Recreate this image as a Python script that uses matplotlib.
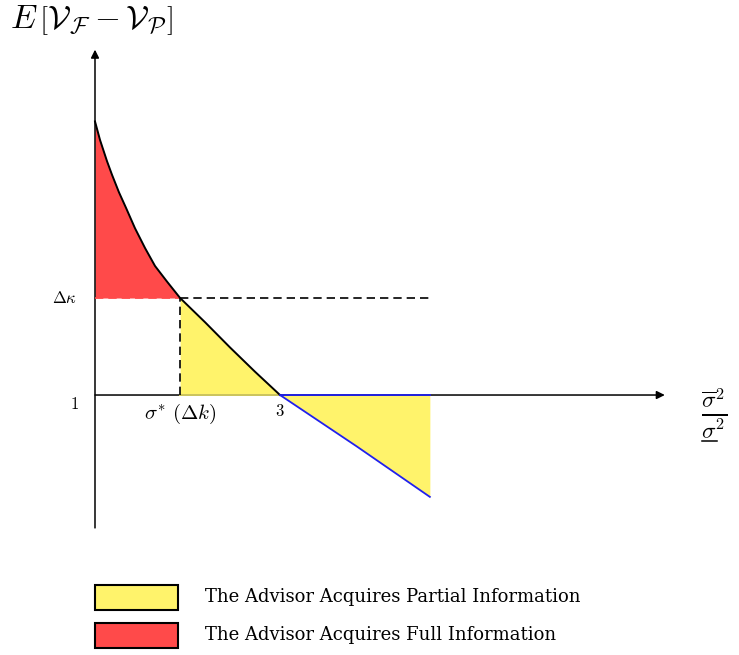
import matplotlib
matplotlib.use('Agg')
import matplotlib.pyplot as plt
from matplotlib.patches import Rectangle

plt.rcParams['mathtext.fontset'] = 'cm'
plt.rcParams['font.family'] = ['DejaVu Serif']

# values
curve_x = [1.0, 1.054, 1.13, 1.184, 1.259, 1.335, 1.432, 1.541, 1.649,
           1.778, 1.92, 2.19, 2.46, 2.73, 3.0]
curve_y = [2.82, 2.63, 2.41, 2.27, 2.09, 1.93, 1.72, 1.515, 1.33,
           1.17, 1.0, 0.75, 0.49, 0.24, 0.0]
blue_x = [3.0, 3.83, 4.62]
blue_y = [0.0, -0.53, -1.05]
sigma_star = 1.92
delta_kappa = 1.0
x_end = 4.62

legend_labels = ['The Advisor Acquires Partial Information',
                 'The Advisor Acquires Full Information']
yellow = '#fff36b'
red = '#ff4a4a'
blue = '#2020ee'

fig = plt.figure(figsize=(7.39, 6.55), dpi=100)
ax = fig.add_axes([0, 0, 1, 1])
ax.set_xlim(-0.027, 7.962)
ax.set_ylim(-2.680, 4.072)
ax.axis('off')

# red area: curve above delta kappa
red_x = [x for x in curve_x if x <= sigma_star]
red_y = [y for x, y in zip(curve_x, curve_y) if x <= sigma_star]
ax.fill_between(red_x, red_y, delta_kappa, color=red, lw=0, zorder=1)

# yellow area: curve down to axis, then blue line below axis
yel_x = [x for x in curve_x if x >= sigma_star]
yel_y = [y for x, y in zip(curve_x, curve_y) if x >= sigma_star]
ax.fill_between(yel_x, yel_y, 0, color=yellow, lw=0, zorder=1)
ax.fill_between(blue_x, blue_y, 0, color=yellow, lw=0, zorder=1)

# axes with arrows
arrow = dict(arrowstyle='-|>', color='black', lw=1.1, mutation_scale=12,
             shrinkA=0, shrinkB=0)
ax.annotate('', xy=(7.16, 0), xytext=(1.0, 0), arrowprops=arrow, zorder=2)
ax.annotate('', xy=(1.0, 3.56), xytext=(1.0, -1.37), arrowprops=arrow, zorder=2)
ax.plot([sigma_star, 3.0], [0, 0], color='#d0c860', lw=1.4, zorder=3)
ax.plot([3.0, x_end], [0, 0], color=blue, lw=1.3, zorder=3)

# curve
ax.plot(curve_x, curve_y, color='black', lw=1.4, zorder=4,
        solid_joinstyle='round')
ax.plot(blue_x, blue_y, color=blue, lw=1.3, zorder=4)

# dashed guides
dash = (0, (5, 3))
ax.plot([1.0, sigma_star], [delta_kappa, delta_kappa], color=red, lw=1.2,
        ls=dash, zorder=3)
ax.plot([sigma_star, x_end], [delta_kappa, delta_kappa], color='black', lw=1.2,
        ls=dash, zorder=3)
ax.plot([sigma_star, sigma_star], [0, delta_kappa], color='black', lw=1.2,
        ls=dash, zorder=3)

# labels
ax.text(0.81, delta_kappa, r'$\Delta\kappa$', fontsize=12, ha='right', va='center')
ax.text(0.83, -0.10, r'$1$', fontsize=12, ha='right', va='center')
ax.text(sigma_star, -0.20, r'$\sigma^{\ast}\ (\Delta k)$', fontsize=15,
        ha='center', va='center')
ax.text(3.0, -0.175, r'$3$', fontsize=12, ha='center', va='center')
ax.text(0.081, 3.87,
        r'$E\,\left[\mathcal{V}_{\mathcal{F}}-\mathcal{V}_{\mathcal{P}}\right]$',
        fontsize=24, ha='left', va='center')
ax.text(7.7, -0.19, r'$\frac{\overline{\sigma}^2}{\sigma^2}$', fontsize=24,
        ha='center', va='center')
ax.plot([7.56, 7.72], [-0.47, -0.47], color='black', lw=1.1)

# legend boxes
for i, (lab, col) in enumerate(zip(legend_labels, [yellow, red])):
    top = 585 + i * 38
    ax.add_patch(Rectangle((95 / 739, 1 - (top + 25) / 655), 83 / 739, 25 / 655,
                           transform=ax.transAxes, facecolor=col,
                           edgecolor='black', lw=1.5))
    ax.text(205 / 739, 1 - (top + 12) / 655, lab, family='DejaVu Serif',
            transform=ax.transAxes, fontsize=13, ha='left', va='center')

fig.savefig('out.png', dpi=100)
